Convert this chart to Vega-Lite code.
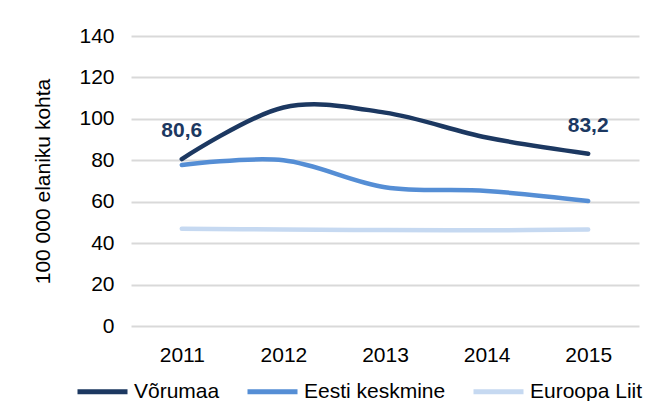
{
  "$schema": "https://vega.github.io/schema/vega-lite/v6.json",
  "width": 508,
  "height": 290,
  "autosize": {"type": "none"},
  "padding": {"left": 131, "top": 36, "right": 29, "bottom": 75},
  "background": "#ffffff",
  "config": {
    "font": "Liberation Sans",
    "view": {"stroke": null}
  },
  "data": {
    "values": [
      {"aasta": "2011", "seeria": "Võrumaa", "vaartus": 80.6, "label": "80,6"},
      {"aasta": "2012", "seeria": "Võrumaa", "vaartus": 105.5},
      {"aasta": "2013", "seeria": "Võrumaa", "vaartus": 103},
      {"aasta": "2014", "seeria": "Võrumaa", "vaartus": 91},
      {"aasta": "2015", "seeria": "Võrumaa", "vaartus": 83.2, "label": "83,2"},
      {"aasta": "2011", "seeria": "Eesti keskmine", "vaartus": 77.7},
      {"aasta": "2012", "seeria": "Eesti keskmine", "vaartus": 80},
      {"aasta": "2013", "seeria": "Eesti keskmine", "vaartus": 67},
      {"aasta": "2014", "seeria": "Eesti keskmine", "vaartus": 65.2},
      {"aasta": "2015", "seeria": "Eesti keskmine", "vaartus": 60.3},
      {"aasta": "2011", "seeria": "Euroopa Liit", "vaartus": 47},
      {"aasta": "2012", "seeria": "Euroopa Liit", "vaartus": 46.6},
      {"aasta": "2013", "seeria": "Euroopa Liit", "vaartus": 46.3},
      {"aasta": "2014", "seeria": "Euroopa Liit", "vaartus": 46.2},
      {"aasta": "2015", "seeria": "Euroopa Liit", "vaartus": 46.6}
    ]
  },
  "layer": [
    {
      "mark": {"type": "line", "interpolate": "cardinal", "strokeWidth": 4.5, "strokeCap": "round", "strokeJoin": "round"},
      "encoding": {
        "x": {
          "field": "aasta", "type": "ordinal",
          "scale": {"type": "point", "padding": 0.5},
          "axis": {"title": null, "labelAngle": 0, "domain": false, "ticks": false, "labelFontSize": 21, "labelColor": "#000000", "labelPadding": 18, "labelFont": "Liberation Sans"}
        },
        "y": {
          "field": "vaartus", "type": "quantitative",
          "scale": {"domain": [0, 140], "nice": false},
          "axis": {"values": [0, 20, 40, 60, 80, 100, 120, 140], "title": "100 000 elaniku kohta", "titleFontSize": 21, "titleFontWeight": "normal", "titleColor": "#000000", "titlePadding": 25, "titleFont": "Liberation Sans", "domain": false, "ticks": false, "labelFontSize": 21, "labelColor": "#000000", "labelPadding": 17, "labelFont": "Liberation Sans", "gridColor": "#d9d9d9", "gridWidth": 2}
        },
        "color": {
          "field": "seeria", "type": "nominal",
          "scale": {"domain": ["Võrumaa", "Eesti keskmine", "Euroopa Liit"], "range": ["#1c3861", "#558ed5", "#c6d9f1"]},
          "legend": {
            "title": null, "orient": "none", "direction": "horizontal",
            "legendX": -56, "legendY": 328, "padding": 0,
            "symbolType": "stroke", "symbolSize": 2500, "symbolStrokeWidth": 5,
            "labelFontSize": 21, "labelColor": "#000000", "labelFont": "Liberation Sans", "labelOffset": 4, "columnPadding": 17, "labelLimit": 300
          }
        }
      }
    },
    {
      "transform": [{"filter": "datum.label"}],
      "mark": {"type": "text", "dy": -28, "fontSize": 21, "fontWeight": "bold", "color": "#1c3861", "font": "Liberation Sans"},
      "encoding": {
        "x": {"field": "aasta", "type": "ordinal"},
        "y": {"field": "vaartus", "type": "quantitative"},
        "text": {"field": "label"}
      }
    }
  ]
}
